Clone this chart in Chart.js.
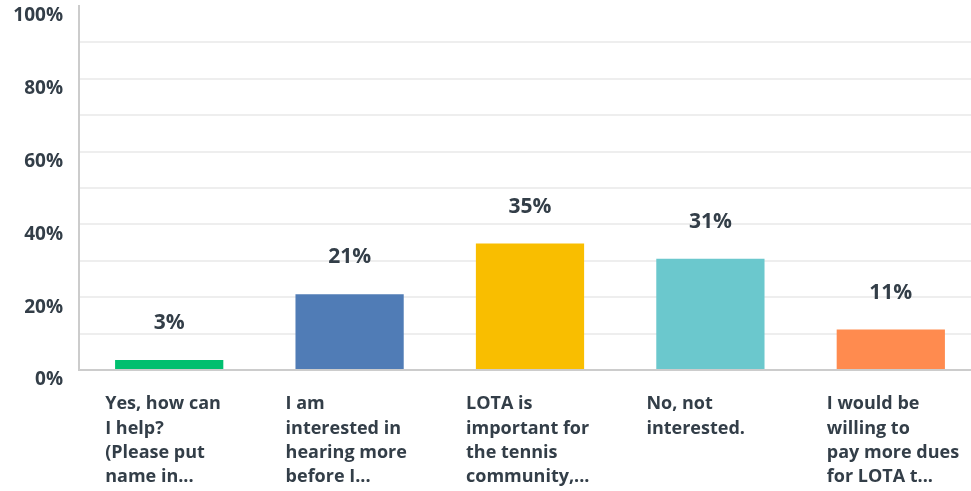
<!DOCTYPE html>
<html>
<head>
<meta charset="utf-8">
<script src="https://cdn.jsdelivr.net/npm/chart.js@4"></script>
<style>
  html, body { margin: 0; padding: 0; background: #fff; overflow: hidden; }
  #wrap { width: 981px; height: 491px; position: relative; }
</style>
</head>
<body>
<div id="wrap"><canvas id="myChart"></canvas></div>
<script>
const labels = [
    ['Yes, how can', 'I help?', '(Please put', 'name in...'],
    ['I am', 'interested in', 'hearing more', 'before I...'],
    ['LOTA is', 'important for', 'the tennis', 'community,...'],
    ['No, not', 'interested.'],
    ['I would be', 'willing to', 'pay more dues', 'for LOTA t...'],
];
const values = [2.78, 20.83, 34.72, 30.56, 11.11];
const colors = ['#00bf6f', '#507cb6', '#f9be00', '#6bc8cd', '#ff8b4f'];
const yTicks = [0, 20, 40, 60, 80, 100];

const textColor = '#333e48';

// percent labels above each bar
const valueLabels = {
    id: 'valueLabels',
    afterDatasetsDraw(chart) {
        const ctx = chart.ctx;
        const meta = chart.getDatasetMeta(0);
        ctx.save();
        ctx.font = 'bold 21px "Open Sans"';
        ctx.fillStyle = textColor;
        ctx.textAlign = 'center';
        ctx.textBaseline = 'middle';
        meta.data.forEach((bar, i) => {
            ctx.fillText(Math.round(values[i]) + '%', bar.x, bar.y - 37);
        });
        ctx.restore();
    }
};

const data = {
    labels: labels,
    datasets: [{
        data: values,
        backgroundColor: colors,
        barPercentage: 0.6,
        categoryPercentage: 1,
    }]
};

const config = {
    type: 'bar',
    data: data,
    plugins: [valueLabels],
    options: {
        responsive: true,
        maintainAspectRatio: false,
        animation: false,
        layout: { padding: { top: 6, left: 0, right: 0, bottom: 0 } },
        plugins: {
            legend: { display: false },
            tooltip: { enabled: false },
        },
        scales: {
            x: {
                grid: { display: false },
                border: { color: '#cccccc', width: 2 },
                ticks: {
                    color: textColor,
                    font: { family: 'Open Sans', size: 18, weight: 'bold', lineHeight: 1.35 },
                    align: 'start',
                    labelOffset: -64,
                    padding: 14,
                    maxRotation: 0,
                    autoSkip: false,
                },
                afterFit: s => {
                    s.paddingLeft = 0;
                    s.paddingRight = 0;
                    s.height = 121;
                }
            },
            y: {
                min: 0,
                max: 100,
                border: { color: '#cccccc', width: 2 },
                grid: {
                    drawTicks: false,
                    lineWidth: 2,
                    color: c => (c.tick.value === 0 || c.tick.value === 100) ? 'rgba(0,0,0,0)' : '#eeeeee',
                },
                ticks: {
                    stepSize: 10,
                    color: textColor,
                    padding: 16,
                    labelOffset: 10,
                    font: { family: 'Open Sans', size: 19, weight: 'bold' },
                    callback: v => yTicks.includes(v) ? v + '%' : '',
                },
                afterFit: s => {
                    s.paddingTop = 0;
                    s.paddingBottom = 0;
                    s.width = 79;
                }
            }
        }
    }
};

const myChart = new Chart(document.getElementById('myChart'), config);
</script>
</body>
</html>
